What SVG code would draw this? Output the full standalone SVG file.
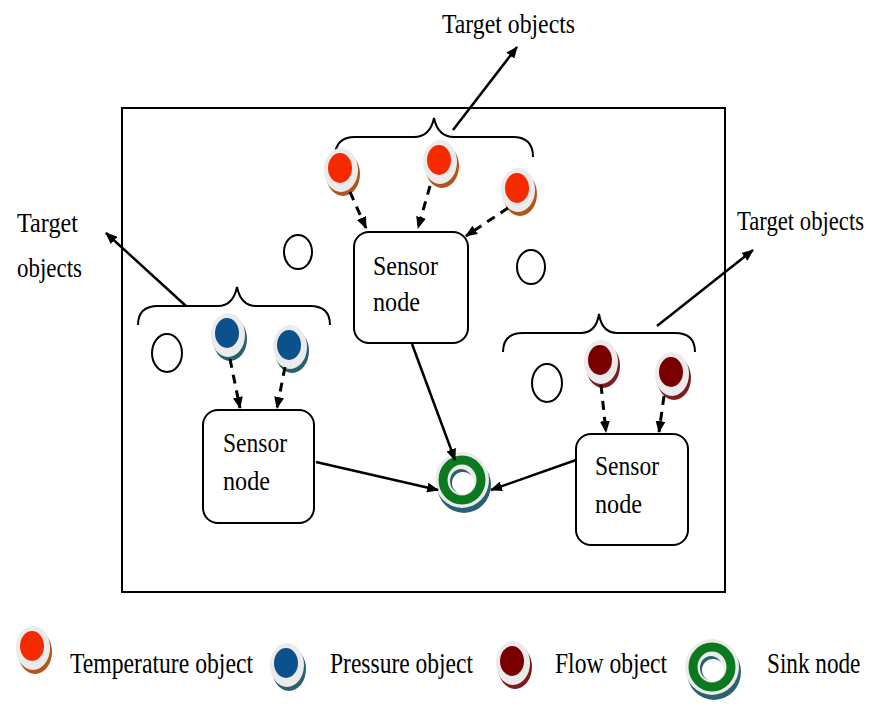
<svg xmlns="http://www.w3.org/2000/svg" width="872" height="706" viewBox="0 0 872 706" font-family="'Liberation Serif', 'DejaVu Serif', serif">
<style>
text{font-family:'Liberation Serif','DejaVu Serif',serif;fill:#000}
.lbl{font-size:28px}
.sn{font-size:27px}
.leg{font-size:29px}
.frame{fill:none;stroke:#000;stroke-width:2}
.brace{fill:none;stroke:#000;stroke-width:2}
.box{fill:#fff;stroke:#000;stroke-width:2}
.empty{fill:#fff;stroke:#000;stroke-width:2}
.solid{stroke:#000;stroke-width:2.5;fill:none}
.dash{stroke:#000;stroke-width:3;fill:none;stroke-dasharray:9 7}
.halo{fill:#ebebeb}
</style>
<defs>
<marker id="ah" viewBox="0 0 12 10" refX="11" refY="5" markerWidth="12" markerHeight="10" markerUnits="userSpaceOnUse" orient="auto">
<path d="M0,0 L12,5 L0,10 Z" fill="#000"/>
</marker>
<g id="tempObj">
<ellipse cx="2" cy="4" rx="17" ry="22" fill="#b0561c"/>
<ellipse cx="0" cy="0" rx="17" ry="22" class="halo"/>
<ellipse cx="-1" cy="-2" rx="12" ry="15" fill="#f52a00"/>
</g>
<g id="presObj">
<ellipse cx="2" cy="4" rx="17" ry="22" fill="#2b6070"/>
<ellipse cx="0" cy="0" rx="17" ry="22" class="halo"/>
<ellipse cx="-1" cy="-2" rx="12" ry="15" fill="#0b528c"/>
</g>
<g id="flowObj">
<ellipse cx="2" cy="4" rx="17" ry="22" fill="#7d1e1e"/>
<ellipse cx="0" cy="0" rx="17" ry="22" class="halo"/>
<ellipse cx="-1" cy="-2" rx="12" ry="15" fill="#7a0000"/>
</g>
<g id="sinkObj">
<ellipse cx="2" cy="5" rx="27" ry="28" fill="#2b6070"/>
<ellipse cx="0" cy="0" rx="27" ry="28" class="halo"/>
<ellipse cx="0" cy="0" rx="19" ry="20" fill="none" stroke="#0b7a1e" stroke-width="9"/>
<ellipse cx="-1" cy="1" rx="11" ry="12" fill="#2b6070"/>
<ellipse cx="1" cy="3" rx="11" ry="11" fill="#fff"/>
</g>
</defs>

<rect x="122" y="108" width="603" height="484" class="frame"/>

<g id="labels">
<text class="lbl" x="442" y="33" textLength="133" lengthAdjust="spacingAndGlyphs">Target objects</text>
<text class="lbl" x="17" y="232" textLength="61" lengthAdjust="spacingAndGlyphs">Target</text>
<text class="lbl" x="17" y="277" textLength="65" lengthAdjust="spacingAndGlyphs">objects</text>
<text class="lbl" transform="translate(737,230) scale(0.81,1)">Target objects</text>
</g>

<g id="braces">
<path class="brace" d="M335,157 Q335,137 355,137 L414,137 Q430,137 434,118 Q438,137 454,137 L513,137 Q533,137 533,157"/>
<path class="brace" d="M138,325 Q138,306 158,306 L218,306 Q233,306 237,287 Q241,306 256,306 L310,306 Q330,306 330,325"/>
<path class="brace" d="M503,352 Q503,333 523,333 L581,333 Q596,333 599,314 Q602,333 617,333 L675,333 Q695,333 695,352"/>
</g>

<g id="empty-objects">
<ellipse cx="298" cy="252" rx="14" ry="17" class="empty"/>
<ellipse cx="531" cy="267" rx="14" ry="17" class="empty"/>
<ellipse cx="167" cy="353" rx="15" ry="19" class="empty"/>
<ellipse cx="547" cy="383" rx="15" ry="19" class="empty"/>
</g>

<g id="temp-1"><use href="#tempObj" x="341" y="170"/></g>
<g id="temp-2"><use href="#tempObj" x="440" y="162"/></g>
<g id="temp-3"><use href="#tempObj" x="518" y="190"/></g>
<g id="pres-1"><use href="#presObj" x="228" y="335"/></g>
<g id="pres-2"><use href="#presObj" x="290" y="347"/></g>
<g id="flow-1"><use href="#flowObj" x="601" y="362"/></g>
<g id="flow-2"><use href="#flowObj" x="672" y="374"/></g>

<g id="sensor-top">
<rect x="354" y="232" width="114" height="111" rx="15" class="box"/>
<text class="sn" x="373" y="275" textLength="65" lengthAdjust="spacingAndGlyphs">Sensor</text>
<text class="sn" x="373" y="311" textLength="47" lengthAdjust="spacingAndGlyphs">node</text>
</g>
<g id="sensor-left">
<rect x="203" y="410" width="111" height="113" rx="15" class="box"/>
<text class="sn" x="223" y="452" textLength="64" lengthAdjust="spacingAndGlyphs">Sensor</text>
<text class="sn" x="223" y="490" textLength="47" lengthAdjust="spacingAndGlyphs">node</text>
</g>
<g id="sensor-right">
<rect x="576" y="434" width="112" height="111" rx="15" class="box"/>
<text class="sn" x="595" y="475" textLength="64" lengthAdjust="spacingAndGlyphs">Sensor</text>
<text class="sn" x="595" y="513" textLength="47" lengthAdjust="spacingAndGlyphs">node</text>
</g>

<g id="sink"><use href="#sinkObj" x="462" y="480"/></g>

<g id="connectors">
<line class="solid" x1="453" y1="130" x2="517" y2="47" marker-end="url(#ah)"/>
<line class="solid" x1="186" y1="306" x2="106" y2="233" marker-end="url(#ah)"/>
<line class="solid" x1="657" y1="326" x2="753" y2="250" marker-end="url(#ah)"/>
<line class="dash" x1="350" y1="192" x2="366" y2="228" marker-end="url(#ah)"/>
<line class="dash" x1="430" y1="186" x2="418" y2="228" marker-end="url(#ah)"/>
<line class="dash" x1="508" y1="208" x2="466" y2="236" marker-end="url(#ah)"/>
<line class="dash" x1="230" y1="359" x2="240" y2="408" marker-end="url(#ah)"/>
<line class="dash" x1="285" y1="367" x2="277" y2="408" marker-end="url(#ah)"/>
<line class="dash" x1="601" y1="385" x2="606" y2="432" marker-end="url(#ah)"/>
<line class="dash" x1="664" y1="396" x2="659" y2="432" marker-end="url(#ah)"/>
<line class="solid" x1="412" y1="344" x2="455" y2="460" marker-end="url(#ah)"/>
<line class="solid" x1="316" y1="462" x2="438" y2="490" marker-end="url(#ah)"/>
<line class="solid" x1="576" y1="460" x2="491" y2="490" marker-end="url(#ah)"/>
</g>

<g id="legend">
<g id="legend-temp"><use href="#tempObj" x="33" y="648"/>
<text class="leg" x="70" y="673" textLength="183" lengthAdjust="spacingAndGlyphs">Temperature object</text></g>
<g id="legend-pres"><use href="#presObj" x="287" y="665"/>
<text class="leg" x="330" y="673" textLength="143" lengthAdjust="spacingAndGlyphs">Pressure object</text></g>
<g id="legend-flow"><use href="#flowObj" x="513" y="663"/>
<text class="leg" x="555" y="673" textLength="112" lengthAdjust="spacingAndGlyphs">Flow object</text></g>
<g id="legend-sink"><use href="#sinkObj" x="712" y="667"/>
<text class="leg" transform="translate(767,673) scale(0.8,1)">Sink node</text></g>
</g>
</svg>
